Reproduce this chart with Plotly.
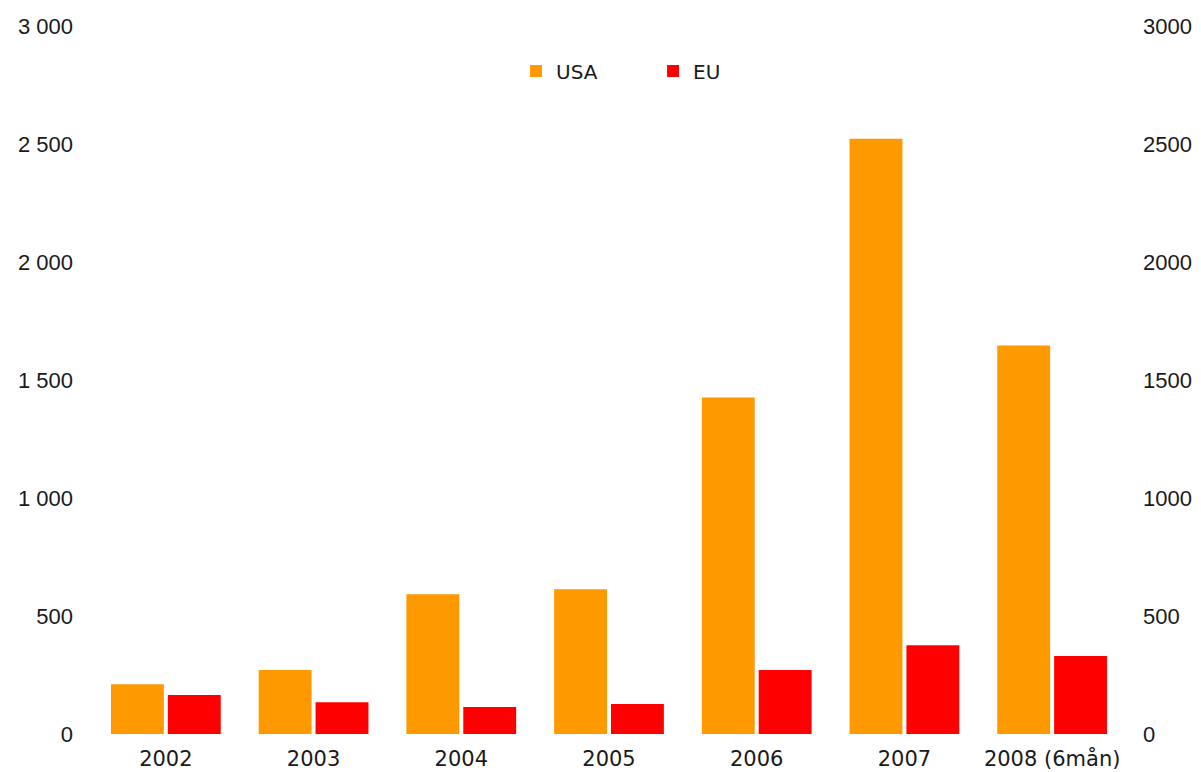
import plotly.graph_objects as go

categories = ["2002", "2003", "2004", "2005", "2006", "2007", "2008 (6mån)"]
usa = [211, 271, 592, 613, 1426, 2522, 1646]
eu = [165, 135, 114, 127, 271, 376, 330]
tick_vals = [0, 500, 1000, 1500, 2000, 2500, 3000]

fig = go.Figure()
fig.add_trace(go.Bar(name="USA", x=categories, y=usa, marker=dict(color="#FF9900", line=dict(width=0))))
fig.add_trace(go.Bar(name="EU", x=categories, y=eu, marker=dict(color="#FF0000", line=dict(width=0))))
# invisible trace to anchor right axis
fig.add_trace(go.Scatter(x=categories, y=usa, yaxis="y2", mode="markers",
                         marker=dict(opacity=0), showlegend=False, hoverinfo="skip"))

yfont = dict(family="Liberation Sans, Arial", size=22, color="#1a1a1a")

fig.update_layout(
    width=1193, height=764,
    margin=dict(l=84, r=75, t=18, b=38, autoexpand=False),
    paper_bgcolor="white", plot_bgcolor="white",
    barmode="group", bargap=0.23, bargroupgap=0.07,
    separators=", ",
    showlegend=True,
    legend=dict(orientation="h", x=0.5426, xanchor="center", y=0.9365, yanchor="middle",
                font=dict(family="DejaVu Sans", size=20, color="#1a1a1a"),
                entrywidth=92, itemwidth=30, bgcolor="rgba(0,0,0,0)"),
    xaxis=dict(showgrid=False, showline=False, zeroline=False, ticks="", automargin=False,
               tickfont=dict(family="DejaVu Sans", size=21, color="#1a1a1a"),
               ticklabelstandoff=10),
    yaxis=dict(range=[0, 3000], tickvals=tick_vals, tickformat=",d", showgrid=False,
               zeroline=False, showline=False, ticks="", automargin=False,
               tickfont=yfont, ticklabelstandoff=18),
    yaxis2=dict(range=[0, 3000], tickvals=tick_vals, tickformat="d", overlaying="y",
                side="right", showgrid=False, zeroline=False, showline=False, ticks="",
                automargin=False, tickfont=yfont, ticklabelstandoff=16),
)

fig.write_html("out.html")
